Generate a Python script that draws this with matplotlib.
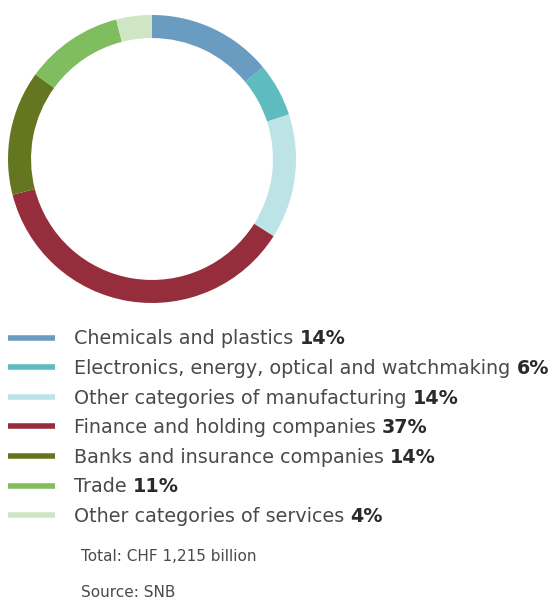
import matplotlib
matplotlib.use("Agg")
import matplotlib.pyplot as plt

categories = [
    "Chemicals and plastics",
    "Electronics, energy, optical and watchmaking",
    "Other categories of manufacturing",
    "Finance and holding companies",
    "Banks and insurance companies",
    "Trade",
    "Other categories of services",
]
shares = [14, 6, 14, 37, 14, 11, 4]
colors = ["#6a9bc0", "#5ebbbf", "#bce3e5", "#952d3c", "#647720", "#80bd5f", "#cfe6c5"]
total_note = "Total: CHF 1,215 billion"
source_note = "Source: SNB"

W, H = 556, 608
fig = plt.figure(figsize=(W / 100, H / 100), dpi=100)
txt = "#4a4a4a"
fam = "DejaVu Sans"

# donut
cx, cy, r = 152, 159, 144
ax = fig.add_axes([(cx - r) / W, (H - cy - r) / H, 2 * r / W, 2 * r / H])
ax.pie(shares, colors=colors, startangle=90, counterclock=False, radius=1,
       wedgeprops=dict(width=0.16, linewidth=0))
ax.set_xlim(-1, 1)
ax.set_ylim(-1, 1)
ax.set_aspect("equal")
ax.axis("off")

# overlay in pixel coordinates for legend and notes
ov = fig.add_axes([0, 0, 1, 1])
ov.set_xlim(0, W)
ov.set_ylim(H, 0)
ov.axis("off")

renderer = fig.canvas.get_renderer()
y0, dy = 337.8, 29.55
fs = 13.75
for i, (cat, val, col) in enumerate(zip(categories, shares, colors)):
    y = y0 + i * dy
    ov.plot([8, 55], [y, y], color=col, lw=4, solid_capstyle="butt")
    t = ov.text(74, y + 6.6, cat + " ", fontsize=fs, color=txt, va="baseline",
                family=fam)
    x_end = t.get_window_extent(renderer).x1
    ov.annotate(f"{val}%", xy=(x_end, H - y - 6.6), xycoords="figure pixels",
                fontsize=fs, color="#2a2a2a", va="baseline", family=fam, fontweight="bold")

ov.text(81, 560.7, total_note, fontsize=11, color=txt, va="baseline", family=fam)
ov.text(81, 596.7, source_note, fontsize=11, color=txt, va="baseline", family=fam)

fig.savefig("out.png", dpi=100)
